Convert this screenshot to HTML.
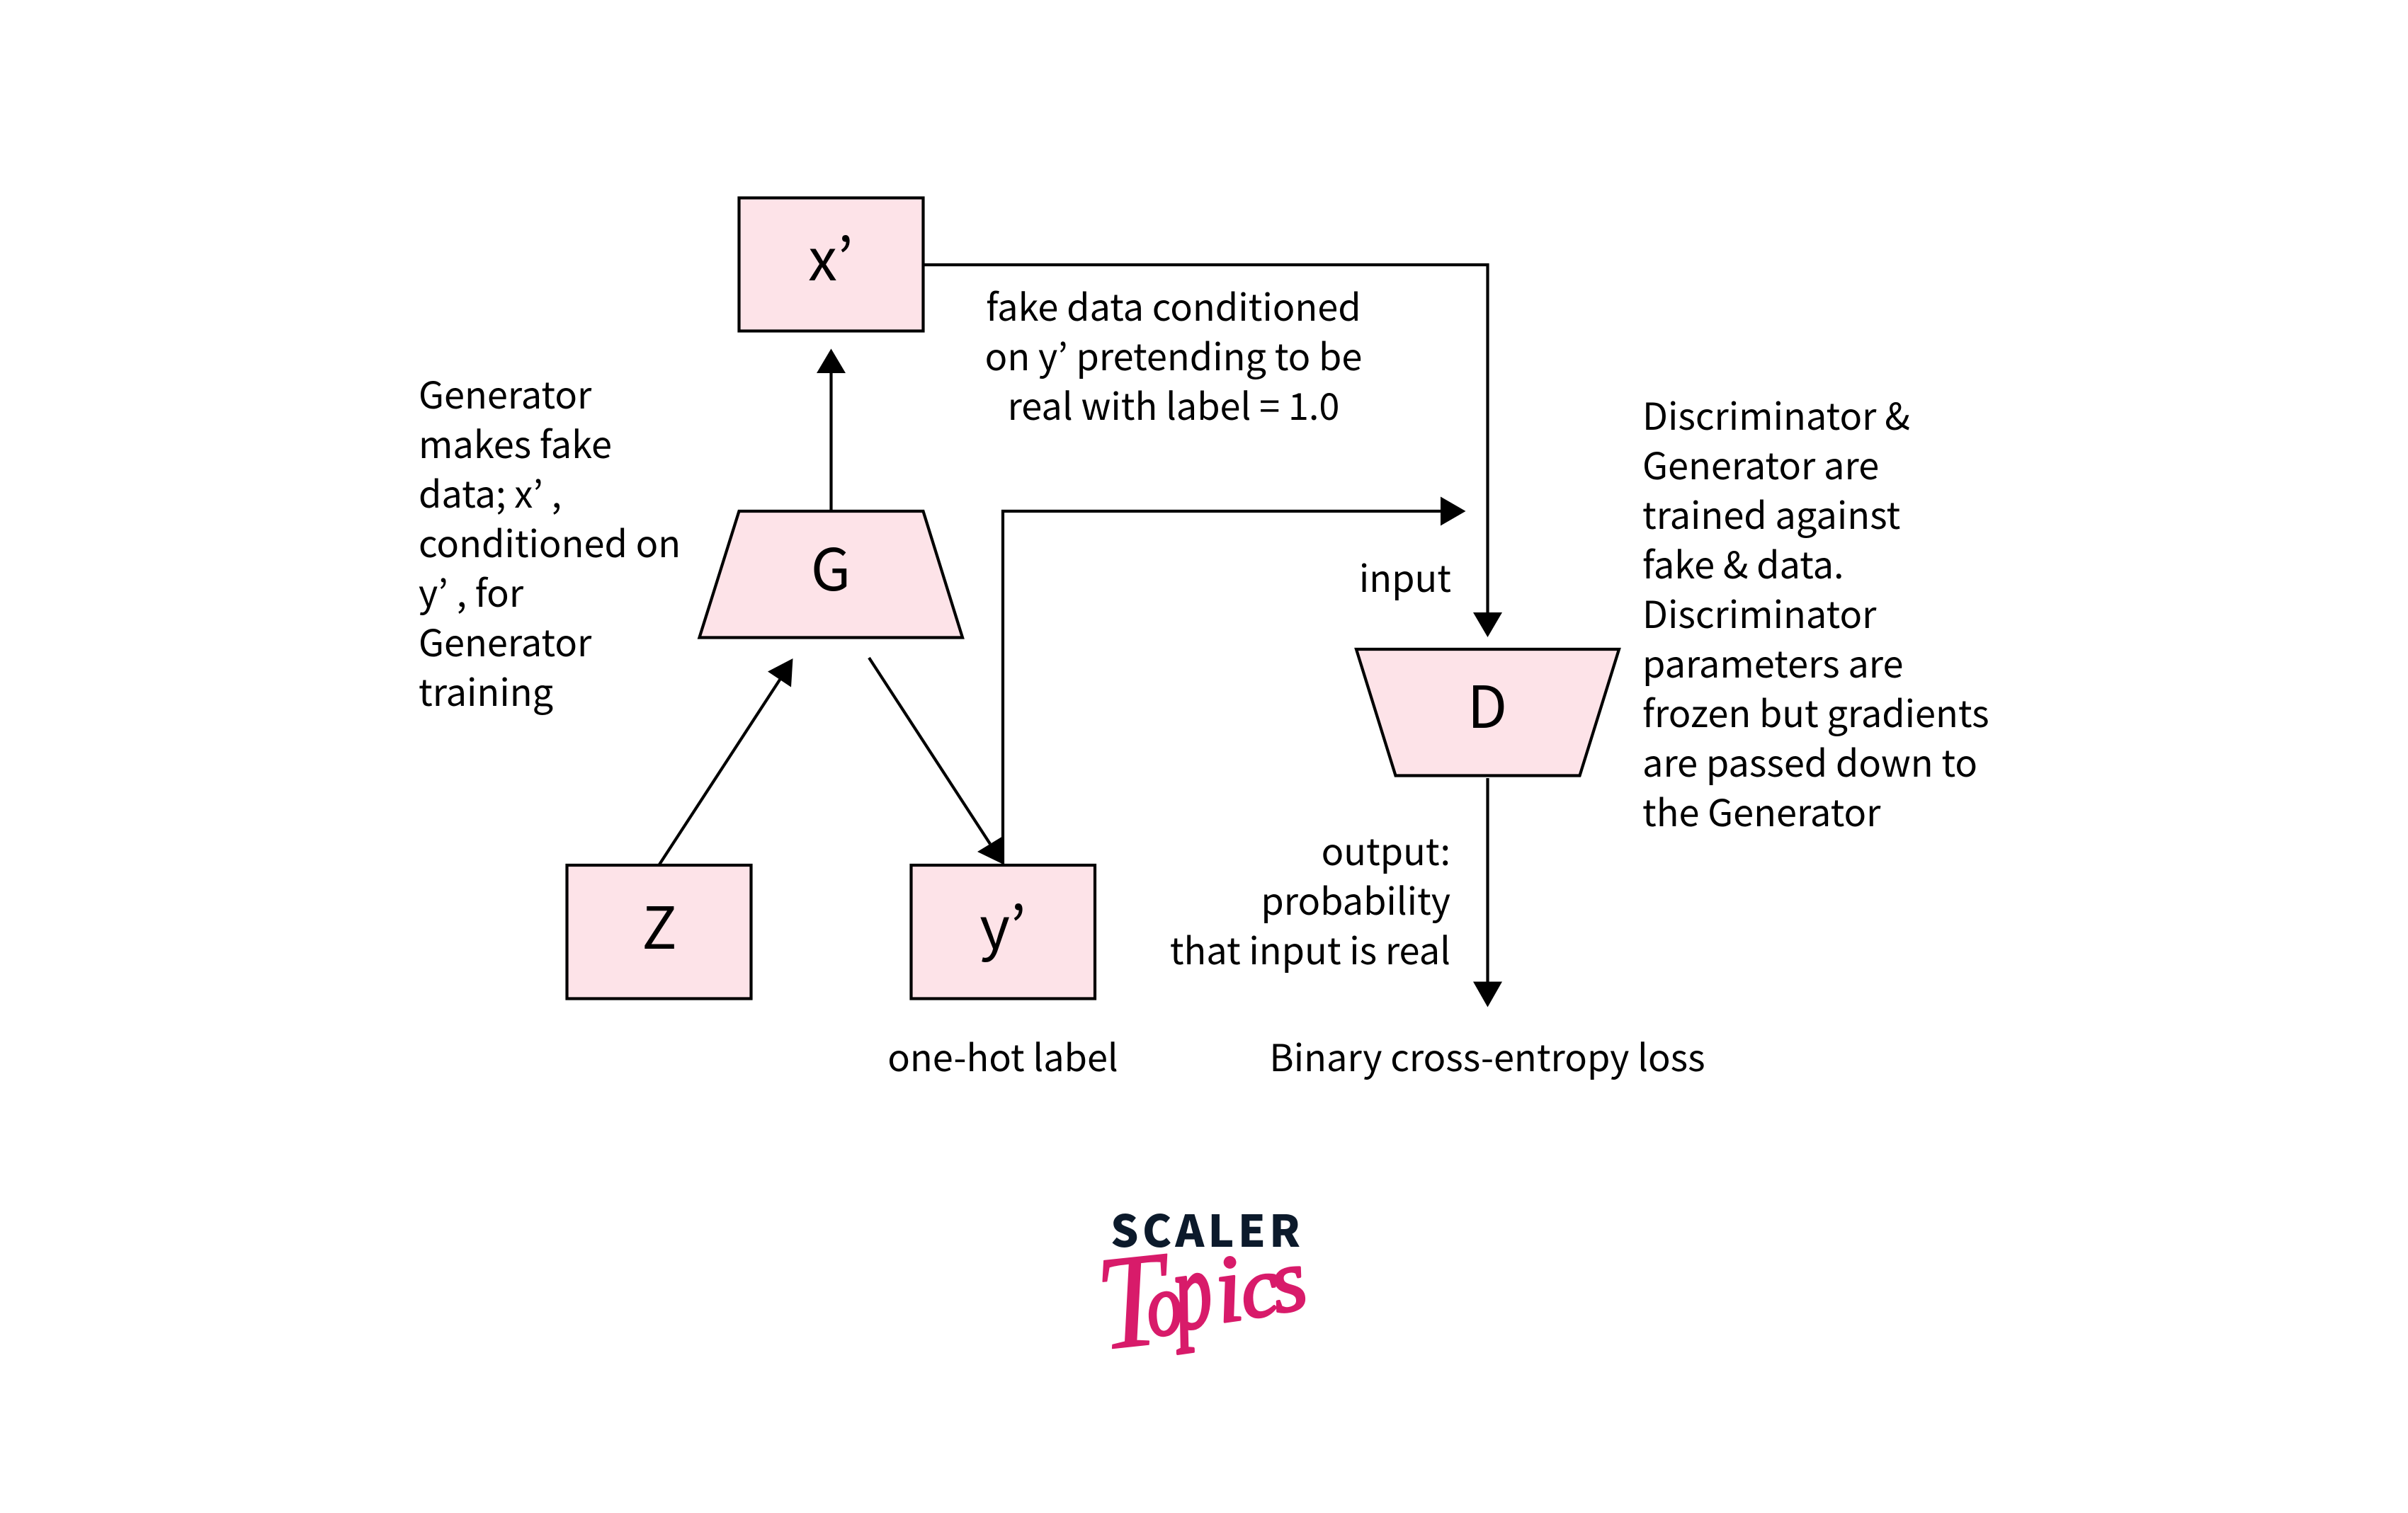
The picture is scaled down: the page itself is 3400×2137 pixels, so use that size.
<!DOCTYPE html>
<html lang="en">
<head>
<meta charset="utf-8">
<title>Conditional GAN generator training diagram</title>
<style>
html,body{margin:0;padding:0;background:#fff;width:3400px;height:2137px;overflow:hidden}
svg{display:block}
text{font-family:"Noto Sans CJK JP","Liberation Sans",sans-serif;fill:#000}
.t{font-size:52.3px}
.n{font-size:82px}
.m{text-anchor:middle}
.e{text-anchor:end}
.s{fill:#fde3e8;stroke:#000;stroke-width:4.2}
.l{fill:none;stroke:#000;stroke-width:4.2}
.p{font-family:"Liberation Serif",serif;font-style:italic;fill:#d81b6a;stroke:#d81b6a;stroke-width:3.5;stroke-linejoin:round}
</style>
</head>
<body>
<svg width="3400" height="2137" viewBox="0 0 3400 2137" xmlns="http://www.w3.org/2000/svg">
<rect width="3400" height="2137" fill="#fff"/>

<!-- nodes -->
<rect class="s" x="1043.5" y="279.5" width="260" height="188"/>
<polygon class="s" points="1043.5,722 1303.5,722 1359,900.5 987.5,900.5"/>
<rect class="s" x="800.5" y="1222" width="260" height="188.5"/>
<rect class="s" x="1286.5" y="1222" width="259.5" height="188.5"/>
<polygon class="s" points="1915,917 2286,917 2230.5,1095.5 1970.5,1095.5"/>

<!-- connectors -->
<polyline class="l" points="1304,374 2100.5,374 2100.5,870"/>
<polygon points="2080,865 2121,865 2100.5,900"/>
<line class="l" x1="1173.5" y1="722" x2="1173.5" y2="520"/>
<polygon points="1153,527 1194,527 1173.5,492.5"/>
<line class="l" x1="931" y1="1221" x2="1103" y2="957"/>
<polygon points="1119.5,930 1084,948.5 1117,970.5"/>
<line class="l" x1="1227" y1="929" x2="1398" y2="1192"/>
<polygon points="1417,1221 1380,1203 1416,1181"/>
<polyline class="l" points="1416,1221 1416,722 2040,722"/>
<polygon points="2034,701.5 2069.5,722 2034,742.5"/>
<line class="l" x1="2100.5" y1="1099" x2="2100.5" y2="1392"/>
<polygon points="2080,1386.5 2121,1386.5 2100.5,1422.5"/>

<!-- node labels -->
<text class="n m" x="1173" y="396">x’</text>
<text class="n m" x="1173" y="834">G</text>
<text class="n m" x="931" y="1340">Z</text>
<text class="n m" x="1416" y="1340">y’</text>
<text class="n m" x="2100" y="1028">D</text>

<!-- left note -->
<text class="t" x="591" y="577">Generator</text>
<text class="t" x="591" y="647">makes fake</text>
<text class="t" x="591" y="717">data; x’ ,</text>
<text class="t" x="591" y="787">conditioned on</text>
<text class="t" x="591" y="857">y’ , for</text>
<text class="t" x="591" y="927">Generator</text>
<text class="t" x="591" y="997">training</text>

<!-- centre note -->
<text class="t m" x="1657" y="453">fake data conditioned</text>
<text class="t m" x="1657" y="523">on y’ pretending to be</text>
<text class="t m" x="1657" y="593">real with label = 1.0</text>

<!-- right note -->
<text class="t" x="2319" y="607">Discriminator &amp;</text>
<text class="t" x="2319" y="677">Generator are</text>
<text class="t" x="2319" y="747">trained against</text>
<text class="t" x="2319" y="817">fake &amp; data.</text>
<text class="t" x="2319" y="887">Discriminator</text>
<text class="t" x="2319" y="957">parameters are</text>
<text class="t" x="2319" y="1027">frozen but gradients</text>
<text class="t" x="2319" y="1097">are passed down to</text>
<text class="t" x="2319" y="1167">the Generator</text>

<!-- input/output labels -->
<text class="t e" x="2049" y="836">input</text>
<text class="t e" x="2048" y="1222">output:</text>
<text class="t e" x="2048" y="1292">probability</text>
<text class="t e" x="2048" y="1362">that input is real</text>
<text class="t m" x="1416" y="1513">one-hot label</text>
<text class="t m" x="2100" y="1513">Binary cross-entropy loss</text>

<!-- logo -->
<text x="1568" y="1761" font-size="62" font-weight="900" textLength="268" lengthAdjust="spacing" style="fill:#0c1a2b">SCALER</text>
<text class="p" transform="translate(1556,1906) rotate(-6) scale(0.9,1)" font-size="190" style="stroke-width:1.5">T</text>
<text class="p" transform="translate(1624,1888) rotate(-8) scale(0.8,1)" font-size="125">o</text>
<text class="p" transform="translate(1664,1878) rotate(-8) scale(0.85,1.25)" font-size="125">p</text>
<text class="p" transform="translate(1722,1868) rotate(-8)" font-size="135">i</text>
<text class="p" transform="translate(1758,1863) rotate(-10)" font-size="120">c</text>
<text class="p" transform="translate(1803,1855) rotate(-12)" font-size="125">s</text>
</svg>
</body>
</html>
